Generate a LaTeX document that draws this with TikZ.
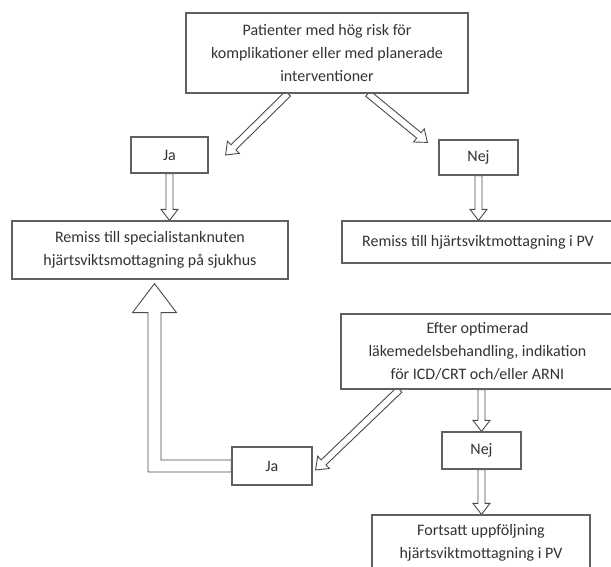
\documentclass[tikz,border=0pt]{standalone}
\usepackage{fontspec}
\setmainfont{Carlito}
\usetikzlibrary{positioning,calc,backgrounds}
\definecolor{boxgray}{HTML}{606060}
\definecolor{arrowgray}{HTML}{4A4A4A}
\definecolor{txtgray}{HTML}{333333}

\begin{document}
\begin{tikzpicture}[x=1pt,y=-1pt,
    box/.style={draw=boxgray, line width=1.2pt, fill=white, text=txtgray, align=center,
      inner sep=0pt, font=\fontsize{16}{23}\selectfont},
    blockarrow/.style={draw=arrowgray, fill=white, line width=0.9pt,
      to path={let \p1=(\tikztostart), \p2=(\tikztotarget), \n1={atan2(\y2-\y1,\x2-\x1)} in
        ($(\p1)+(\n1+90:3.5pt)$) -- ($(\p2)+(\n1:-11pt)+(\n1+90:3.5pt)$)
        -- ($(\p2)+(\n1:-11pt)+(\n1+90:8.5pt)$) -- (\p2)
        -- ($(\p2)+(\n1:-11pt)+(\n1-90:8.5pt)$) -- ($(\p2)+(\n1:-11pt)+(\n1-90:3.5pt)$)
        -- ($(\p1)+(\n1-90:3.5pt)$) -- cycle}}]
  \useasboundingbox (0,0) rectangle (611,567);

  % boxes
  \node[box, minimum width=282pt, minimum height=80pt] (top) at (327,53)
    {Patienter med hög risk för\\komplikationer eller med planerade\\interventioner};
  \node[box, minimum width=77pt, minimum height=36pt] (jaA) at (169.5,155) {Ja};
  \node[box, minimum width=79pt, minimum height=35pt] (nejA) at (478.5,157.5) {Nej};
  \node[box, minimum width=276pt, minimum height=58pt] (remissS) at (150,250)
    {Remiss till specialistanknuten\\hjärtsviktsmottagning på sjukhus};
  \node[box, minimum width=272pt, minimum height=42pt] (remissPV) at (478,242)
    {Remiss till hjärtsviktmottagning i PV};
  \node[box, minimum width=273pt, minimum height=75pt] (efter) at (477.5,351.5)
    {Efter optimerad\\läkemedelsbehandling, indikation\\för ICD/CRT och/eller ARNI};
  \node[box, minimum width=80pt, minimum height=38pt] (jaB) at (272,466) {Ja};
  \node[box, minimum width=79pt, minimum height=37pt] (nejB) at (481.5,450.5) {Nej};
  \node[box, minimum width=218pt, minimum height=56pt] (fortsatt) at (481,543)
    {Fortsatt uppföljning\\hjärtsviktmottagning i PV};

  \coordinate (bend) at (154.5,467);

  % arrows
  \begin{scope}[on background layer]
    \draw[blockarrow] ([xshift=-39pt]top.south) to ([xshift=17pt]jaA.east);
    \draw[blockarrow] ([xshift=41pt]top.south) to ([shift={(-11,3)}]nejA.north west);
    \draw[blockarrow] (jaA.south) to (jaA.south |- remissS.north);
    \draw[blockarrow] (nejA.south) to (nejA.south |- remissPV.north);
    \draw[blockarrow] ([xshift=-78pt]efter.south) to ([shift={(3,4)}]jaB.east);
    \draw[blockarrow] (efter.south -| nejB.north) to (nejB.north);
    \draw[blockarrow] (nejB.south) to (nejB.south |- fortsatt.north);
    \draw[draw=arrowgray, fill=white, line width=0.9pt]
      let \p1=(jaB.west), \p2=(remissS.south), \p3=(bend) in
      (\x1,\y1+6pt) -- (\x3+6.5pt,\y1+6pt) -- (\x3+6.5pt,\y2-33pt) -- (\x3+22pt,\y2-33pt)
      -- (\x3,\y2-4pt) -- (\x3-22pt,\y2-33pt) -- (\x3-6.5pt,\y2-33pt)
      -- (\x3-6.5pt,\y1-6pt) -- (\x1,\y1-6pt) -- cycle;
  \end{scope}
\end{tikzpicture}
\end{document}
